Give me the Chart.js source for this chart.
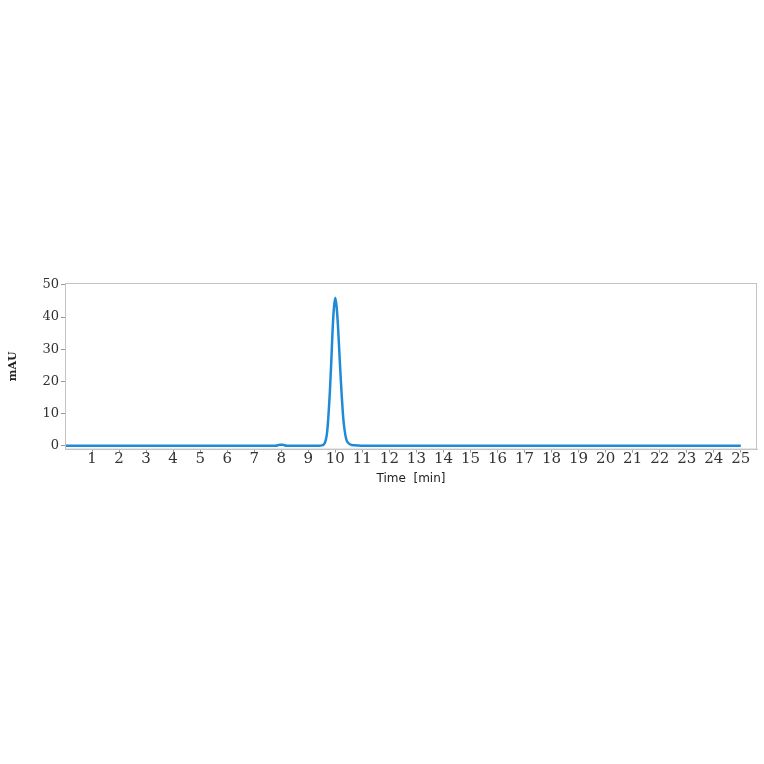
<!DOCTYPE html>
<html>
<head>
<meta charset="utf-8">
<script src="https://cdn.jsdelivr.net/npm/chart.js@4"></script>
<style>
  html, body { margin: 0; padding: 0; background: #ffffff; }
  #wrap { width: 764px; height: 764px; }
</style>
</head>
<body>
<div id="wrap"><canvas id="grafico" width="764" height="764"></canvas></div>
<script>
// retention time (min) and signal (mAU)
const tiempos = [0, 7.8, 7.95, 8.05, 8.2, 9.4, 9.5, 9.6, 9.7, 9.8, 9.85, 9.9, 9.95, 10.0, 10.05, 10.1, 10.15, 10.2, 10.3, 10.4, 10.5, 10.6, 10.8, 11.0, 25];
const senal = [0, 0, 0.3, 0.3, 0, 0, 0.1, 0.7, 4.5, 17, 26, 36, 43, 46, 43, 37, 29, 21, 8, 2.2, 0.7, 0.25, 0.1, 0, 0];

const ticksX = [1, 2, 3, 4, 5, 6, 7, 8, 9, 10, 11, 12, 13, 14, 15, 16, 17, 18, 19, 20, 21, 22, 23, 24, 25];
const ticksY = [0, 10, 20, 30, 40, 50];

const puntos = tiempos.map((t, i) => ({ x: t, y: senal[i] }));

const marco = {
  id: 'marco',
  afterDraw(chart) {
    const { ctx, chartArea: a } = chart;
    ctx.save();
    ctx.strokeStyle = '#c4c4c4';
    ctx.lineWidth = 1;
    ctx.strokeRect(a.left + 0.5, a.top + 0.5, a.right - a.left - 1, a.bottom - a.top - 1);
    ctx.restore();
  }
};

new Chart(document.getElementById('grafico'), {
  type: 'line',
  data: {
    datasets: [{
      label: 'mAU',
      data: puntos,
      borderColor: '#1f8ad6',
      borderWidth: 2.5,
      pointRadius: 0,
      cubicInterpolationMode: 'monotone',
      fill: false
    }]
  },
  options: {
    responsive: false,
    animation: false,
    layout: {
      padding: { left: 0, right: 7, top: 283, bottom: 274 }
    },
    plugins: {
      legend: { display: false },
      tooltip: { enabled: false }
    },
    scales: {
      x: {
        type: 'linear',
        min: 0,
        max: 25.6,
        afterBuildTicks: s => { s.ticks = ticksX.map(v => ({ value: v })); },
        ticks: {
          color: '#333',
          padding: -2,
          maxRotation: 0,
          autoSkip: false,
          font: { family: 'DejaVu Serif', size: 15 }
        },
        grid: { drawOnChartArea: false, drawTicks: true, tickLength: 3, color: '#999' },
        border: { display: true, color: '#c4c4c4' },
        title: {
          display: true,
          text: 'Time  [min]',
          color: '#222',
          padding: { top: 5, bottom: 4 },
          font: { family: 'DejaVu Sans', size: 12 }
        }
      },
      y: {
        type: 'linear',
        min: -1.2,
        max: 50.6,
        afterBuildTicks: s => { s.ticks = ticksY.map(v => ({ value: v })); },
        afterFit: s => { s.width = 65; },
        ticks: {
          color: '#333',
          padding: 2,
          font: { family: 'DejaVu Serif', size: 13 }
        },
        grid: { drawOnChartArea: false, drawTicks: true, tickLength: 4, color: '#999' },
        border: { display: true, color: '#c4c4c4' },
        title: {
          display: true,
          text: 'mAU',
          color: '#222',
          padding: { top: 7, bottom: 0 },
          font: { family: 'DejaVu Serif', size: 11, weight: 'bold' }
        }
      }
    }
  },
  plugins: [marco]
});
</script>
</body>
</html>
